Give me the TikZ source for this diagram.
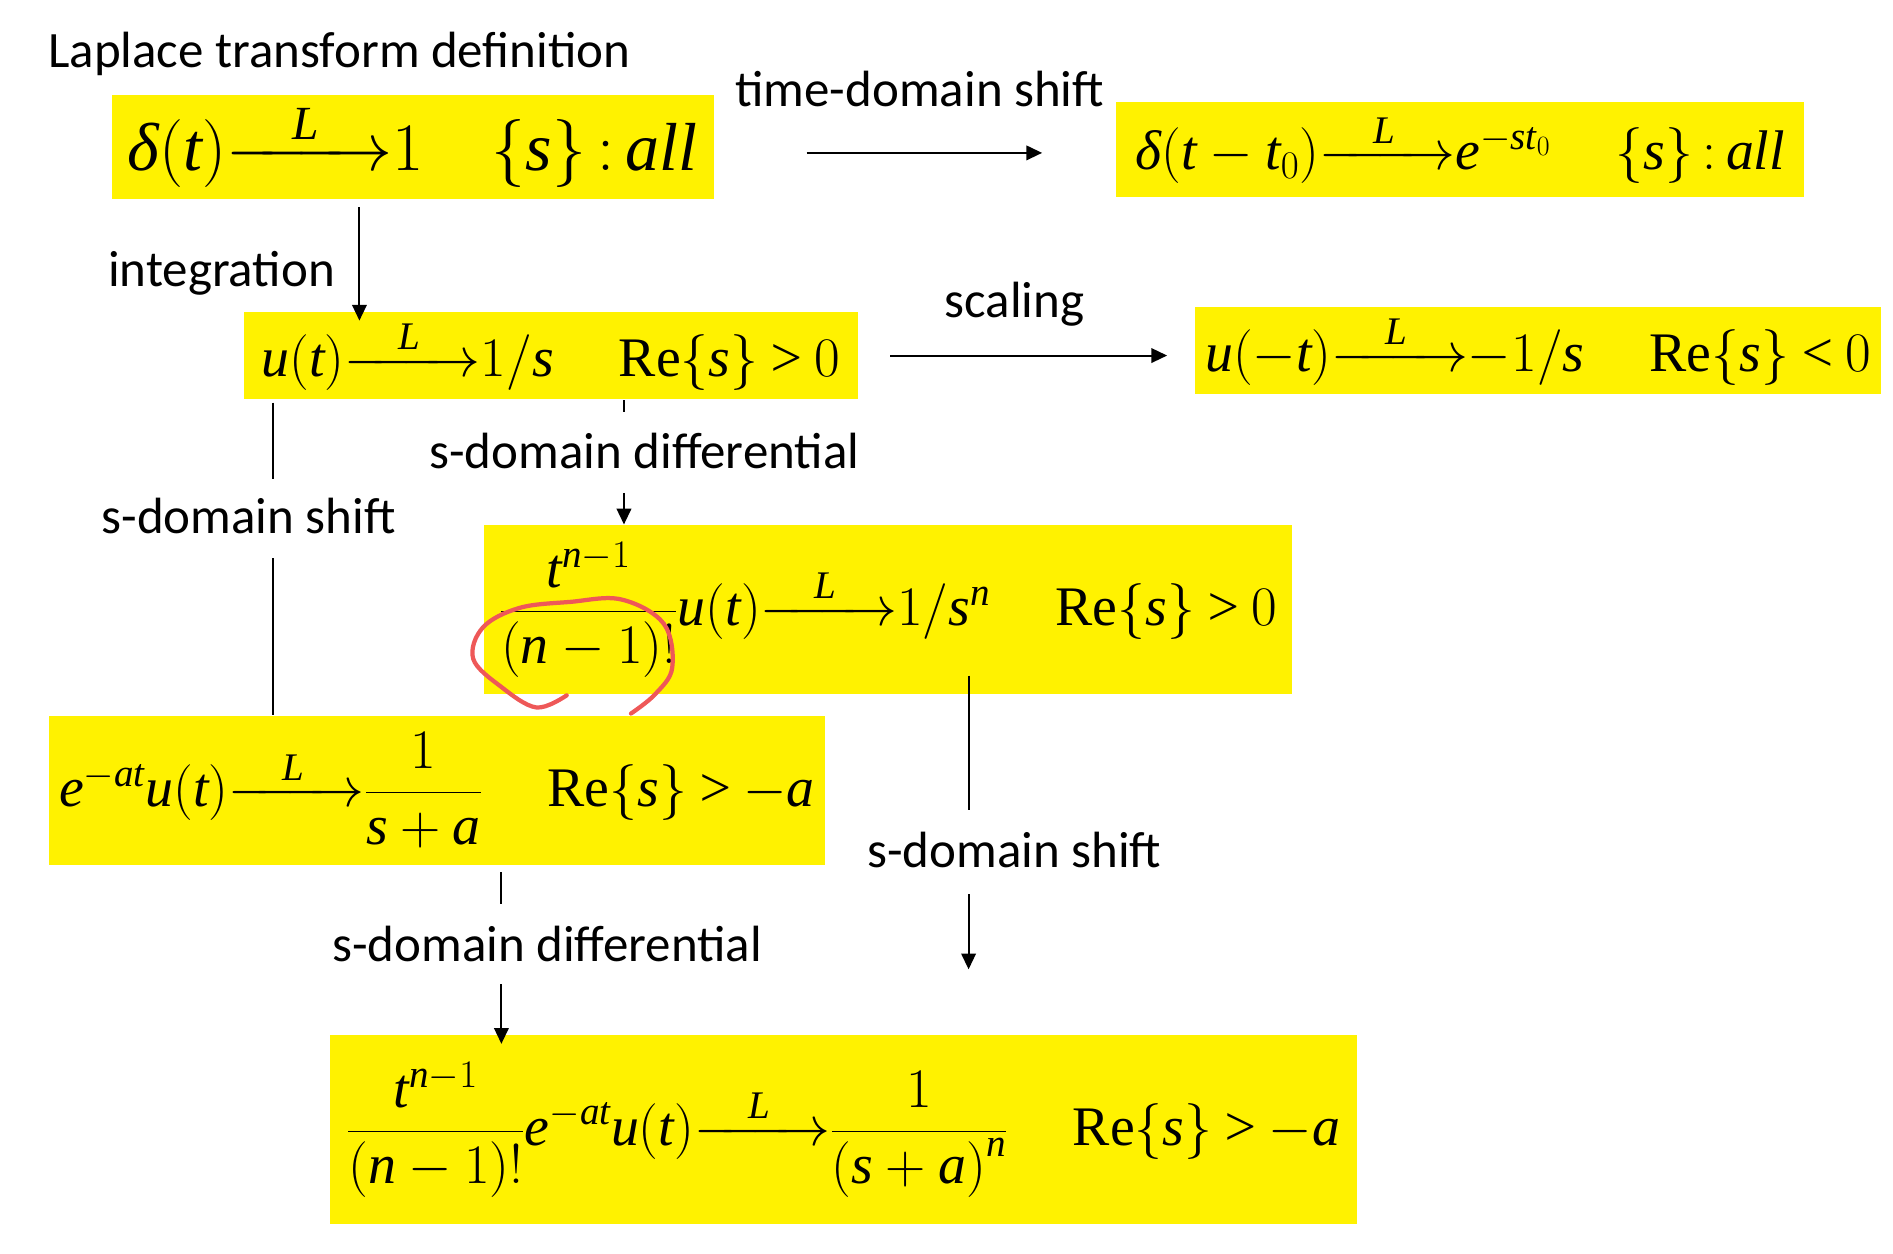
\RequirePackage{fix-cm}
\documentclass[tikz,border=0pt]{standalone}
\usepackage{amsmath}
\usepackage{fontspec}
\setmainfont{Liberation Serif}
\newfontfamily\lblfont{Carlito}
\edef\mathmain{\rmdefault}
\DeclareSymbolFont{letters}{TU}{\mathmain}{m}{it}
\DeclareSymbolFont{operators}{TU}{\mathmain}{m}{n}
\Umathchardef\delta="0 "1 "3B4
\DeclareMathSymbol{/}{\mathord}{operators}{"2F}
\thickmuskip=3mu plus 2mu
\usetikzlibrary{arrows.meta}
\definecolor{penred}{RGB}{238,88,88}
\newcommand{\lap}{{\xrightarrow{\makebox[1.9em]{$\scriptstyle L$}}}}

\begin{document}
\begin{tikzpicture}[x=1pt, y=-1pt, line width=1.6pt,
  box/.style={fill=yellow, inner sep=0pt, font=\fontsize{46}{55}\selectfont},
  lbl/.style={inner sep=0pt, anchor=base, font=\lblfont\fontsize{42}{50}\selectfont},
  arr/.style={-{Triangle[length=13pt,width=12pt]}}]
\useasboundingbox (0,0) rectangle (1560,1033);
\node[box, minimum width=496, minimum height=86, font=\fontsize{56}{67}\selectfont] (delta) at (340,121) {$\delta(t)\lap 1\quad\{s\}\,{:}\,all$};
\node[box, minimum width=567, minimum height=78] (shift) at (1203.5,123) {$\delta(t-t_0)\lap e^{-st_0}\quad\;\{s\}\,{:}\,all$};
\node[box, minimum width=506, minimum height=72] (step) at (454,293) {$u(t)\lap 1/s\quad\;\mathrm{Re}\{s\}>0$};
\node[box, minimum width=565, minimum height=72] (flip) at (1267.5,289) {$u(-t)\lap {-1}/s\quad\;\mathrm{Re}\{s\}<0$};
\node[box, minimum width=666, minimum height=139] (pow) at (732,502.5) {$\dfrac{t^{n-1}}{(n-1)!}u(t)\lap 1/s^n\quad\;\mathrm{Re}\{s\}>0$};
\node[box, minimum width=640, minimum height=123] (expo) at (360,651.5) {$e^{-at}u(t)\lap\dfrac{1}{s+a}\quad\;\mathrm{Re}\{s\}>-a$};
\node[box, minimum width=846, minimum height=156] (powexp) at (695,931) {$\dfrac{t^{n-1}}{(n-1)!}e^{-at}u(t)\lap\dfrac{1}{\left(s+a\right)^n}\quad\;\mathrm{Re}\{s\}>-a$};

\node[lbl, anchor=base west] (deflbl) at (39,56) {Laplace transform definition};
\node[lbl] (tslbl) at (758,88) {time-domain shift};
\node[lbl] (intlbl) at (182.5,236) {integration};
\node[lbl] (sclbl) at (836,262) {scaling};
\node[lbl] (difflbl) at (531,386) {s-domain differential};
\node[lbl] (sslbl) at (205,440) {s-domain shift};
\node[lbl] (sslblb) at (836,715) {s-domain shift};
\node[lbl] (difflblb) at (451,792) {s-domain differential};

\draw[arr] ([shift={(76,5)}]delta.east) -- ++(194,0);
\draw[arr] ([shift={(205,6)}]delta.south west) -- ([shift={(96,8)}]step.north west);
\draw[arr] ([shift={(26,0)}]step.east) -- ++(228,0);
\draw ([shift={(314,0)}]step.south west) -- ++(0,10);
\draw[arr] ([shift={(116,-26)}]pow.north west) -- ([shift={(116,0)}]pow.north west);
\draw ([shift={(25,2)}]step.south west) -- ++(0,63);
\draw ([shift={(186,0)}]expo.north west) -- ++(0,-129);
\draw ([shift={(400,-16)}]pow.south west) -- ++(0,111);
\draw[arr] ([shift={(400,164)}]pow.south west) -- ++(0,62);
\draw ([shift={(374,5)}]expo.south west) -- ++(0,26);
\draw[arr] ([shift={(142,-41)}]powexp.north west) -- ([shift={(142,8)}]powexp.north west);

\draw[penred, line width=3.5pt, line cap=round] plot[smooth, tension=0.6] coordinates {(467,573) (442,583) (413,566) (390,543) (398,517) (428,501) (470,496) (512,494) (547,514) (554,550) (540,572) (520,588)};
\end{tikzpicture}
\end{document}
